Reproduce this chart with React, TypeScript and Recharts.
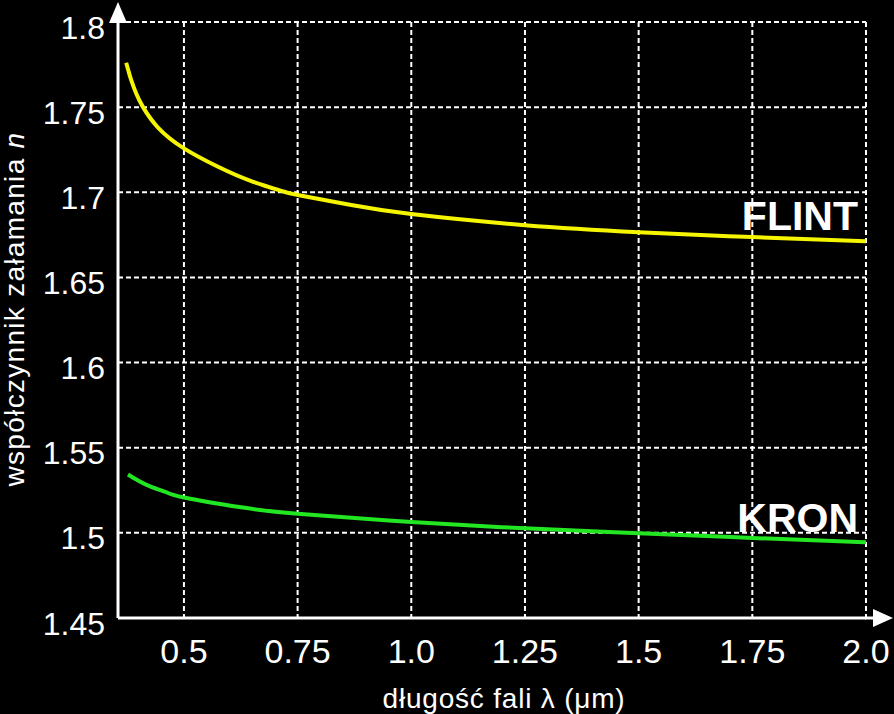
import React from 'react';
import { LineChart, Line, XAxis, YAxis, CartesianGrid, ReferenceDot, Label } from 'recharts';

// FLINT glass: wavelength (µm) and refractive index
const flintLambda = [0.373, 0.3784, 0.3843, 0.3953, 0.41, 0.443, 0.5, 0.575, 0.648, 0.721, 0.75, 0.868, 1.0, 1.25, 1.5, 1.75, 2.0];
const flintN = [1.7761, 1.7709, 1.7657, 1.7578, 1.75, 1.738, 1.7258, 1.715, 1.7066, 1.7003, 1.6984, 1.6925, 1.6872, 1.6807, 1.6766, 1.6737, 1.6713];

// KRON glass
const kronLambda = [0.377, 0.4, 0.428, 0.46, 0.5, 0.626, 0.75, 1.0, 1.25, 1.5, 1.75, 2.0];
const kronN = [1.5343, 1.5306, 1.527, 1.524, 1.5208, 1.515, 1.5112, 1.5064, 1.5027, 1.4998, 1.497, 1.4945];

const xTicks = [0.5, 0.75, 1.0, 1.25, 1.5, 1.75, 2.0];
const xTickLabels = ['0.5', '0.75', '1.0', '1.25', '1.5', '1.75', '2.0'];
const yTicks = [1.45, 1.5, 1.55, 1.6, 1.65, 1.7, 1.75, 1.8];
const yTickLabels = ['1.45', '1.5', '1.55', '1.6', '1.65', '1.7', '1.75', '1.8'];

const xDomain = [0.355, 2.0];
const yDomain = [1.45, 1.8];

const seriesLabels = [
  { name: 'FLINT', x: 2.0, y: 1.678 },
  { name: 'KRON', x: 2.0, y: 1.5004 },
];

const flintData = flintLambda.map((l, i) => ({ l, n: flintN[i] }));
const kronData = kronLambda.map((l, i) => ({ l, n: kronN[i] }));

const FONT = '"Liberation Sans", Arial, Helvetica, sans-serif';

const XTick = (props: any) => {
  const { x, y, payload } = props;
  const idx = xTicks.indexOf(payload.value);
  return (
    <text x={x} y={y + 45} textAnchor="middle" fill="#fff" fontSize={34} fontFamily={FONT}>
      {idx >= 0 ? xTickLabels[idx] : payload.value}
    </text>
  );
};

const YTick = (props: any) => {
  const { x, y, payload } = props;
  const idx = yTicks.indexOf(payload.value);
  return (
    <text x={x - 13} y={y + 16.5} textAnchor="end" fill="#fff" fontSize={32} fontFamily={FONT}>
      {idx >= 0 ? yTickLabels[idx] : payload.value}
    </text>
  );
};

const YLabel = (props: any) => {
  const vb = props.viewBox || { x: 0, y: 0, width: 0, height: 0 };
  const cx = vb.x + 24;
  const cy = vb.y + vb.height / 2 - 11;
  return (
    <text
      x={cx}
      y={cy}
      transform={`rotate(-90, ${cx}, ${cy})`}
      textAnchor="middle"
      fill="#fff"
      fontSize={28}
      letterSpacing={1.3}
      fontFamily={FONT}
    >
      współczynnik załamania <tspan fontStyle="italic">n</tspan>
    </text>
  );
};

const XLabel = (props: any) => {
  const vb = props.viewBox || { x: 0, y: 0, width: 0, height: 0 };
  const cx = vb.x + vb.width / 2 + 12;
  const cy = vb.y + 90;
  return (
    <text x={cx} y={cy} textAnchor="middle" fill="#fff" fontSize={28} letterSpacing={0.8} fontFamily={FONT}>
      długość fali λ (μm)
    </text>
  );
};

const XArrow = (props: any) => {
  const { cx, cy } = props;
  return (
    <g>
      <line x1={cx - 1} y1={cy} x2={cx + 9} y2={cy} stroke="#fff" strokeWidth={3} />
      <polygon points={`${cx + 7},${cy - 9} ${cx + 27},${cy} ${cx + 7},${cy + 9}`} fill="#fff" />
    </g>
  );
};

const YArrow = (props: any) => {
  const { cx, cy } = props;
  return (
    <polygon points={`${cx - 9},${cy + 1} ${cx},${cy - 20} ${cx + 9},${cy + 1}`} fill="#fff" />
  );
};

const makeTextShape = (text: string) => (props: any) => {
  const { cx, cy } = props;
  return (
    <text x={cx - 8} y={cy} textAnchor="end" fill="#fff" fontSize={41} fontWeight="bold" fontFamily={FONT}>
      {text}
    </text>
  );
};

export default function App() {
  return (
    <div style={{ position: 'absolute', left: 0, top: 0, width: 894, height: 714, background: '#000' }}>
      <LineChart width={894} height={714} margin={{ top: 22, right: 28, bottom: 0, left: 0 }}>
        <CartesianGrid stroke="#fff" strokeDasharray="5 3" strokeWidth={2} />
        <XAxis
          type="number"
          dataKey="l"
          domain={xDomain}
          ticks={xTicks}
          allowDataOverflow
          height={96}
          tickSize={0}
          tickMargin={0}
          tickLine={false}
          axisLine={{ stroke: '#fff', strokeWidth: 3 }}
          tick={<XTick />}
          interval={0}
        >
          <Label content={<XLabel />} />
        </XAxis>
        <YAxis
          type="number"
          domain={yDomain}
          ticks={yTicks}
          allowDataOverflow
          width={118}
          tickSize={0}
          tickMargin={0}
          tickLine={false}
          axisLine={{ stroke: '#fff', strokeWidth: 3 }}
          tick={<YTick />}
          interval={0}
        >
          <Label content={<YLabel />} />
        </YAxis>
        <Line
          data={flintData}
          dataKey="n"
          type="natural"
          stroke="#f5f500"
          strokeWidth={4}
          dot={false}
          isAnimationActive={false}
        />
        <Line
          data={kronData}
          dataKey="n"
          type="natural"
          stroke="#22e622"
          strokeWidth={4}
          dot={false}
          isAnimationActive={false}
        />
        {seriesLabels.map((s) => (
          <ReferenceDot key={s.name} x={s.x} y={s.y} r={0} ifOverflow="visible" shape={makeTextShape(s.name)} />
        ))}
        <ReferenceDot x={xDomain[1]} y={yDomain[0]} r={0} ifOverflow="visible" shape={XArrow} />
        <ReferenceDot x={xDomain[0]} y={yDomain[1]} r={0} ifOverflow="visible" shape={YArrow} />
      </LineChart>
    </div>
  );
}
